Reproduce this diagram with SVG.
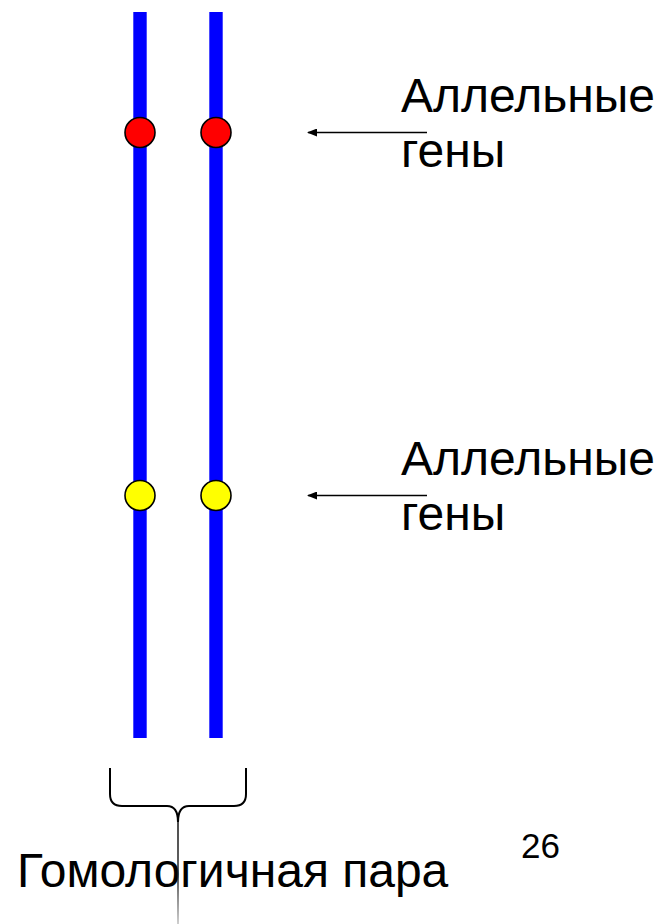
<svg xmlns="http://www.w3.org/2000/svg" width="660" height="924" viewBox="0 0 660 924">
  <defs>
    <style>
      .chrom { fill: #0000ff; }
      .red { fill: #ff0000; stroke: #000; stroke-width: 1.6; }
      .yel { fill: #ffff00; stroke: #000; stroke-width: 1.6; }
      .txt { font-family: "Liberation Sans", Arial, sans-serif; fill: #000; }
      .arrow { stroke: #000; stroke-width: 1.5; fill: none; marker-end: url(#ah); }
    </style>
    <marker id="ah" viewBox="0 0 10 8" refX="9" refY="4" markerWidth="10" markerHeight="8" markerUnits="userSpaceOnUse" orient="auto">
      <path d="M0,0 L10,4 L0,8 Z" fill="#000"/>
    </marker>
    <linearGradient id="stem" gradientUnits="userSpaceOnUse" x1="0" y1="815" x2="0" y2="924">
      <stop offset="0" stop-color="#000"/>
      <stop offset="0.6" stop-color="#222"/>
      <stop offset="1" stop-color="#bbb"/>
    </linearGradient>
  </defs>
  <rect width="660" height="924" fill="#fff"/>

  <g id="chromosome1">
    <rect class="chrom" x="133.3" y="12" width="13.4" height="726"/>
  </g>
  <g id="chromosome2">
    <rect class="chrom" x="209.3" y="12" width="13.4" height="726"/>
  </g>

  <g id="gene-red-1"><circle class="red" cx="140" cy="132.5" r="15"/></g>
  <g id="gene-red-2"><circle class="red" cx="216" cy="132.5" r="15"/></g>
  <g id="gene-yellow-1"><circle class="yel" cx="140" cy="495.5" r="15"/></g>
  <g id="gene-yellow-2"><circle class="yel" cx="216" cy="495.5" r="15"/></g>

  <g id="label-allelic-1">
    <text class="txt" x="401" y="112" font-size="48">Аллельные</text>
    <text class="txt" x="401" y="167" font-size="48">гены</text>
  </g>
  <g id="label-allelic-2">
    <text class="txt" x="401" y="475" font-size="48">Аллельные</text>
    <text class="txt" x="401" y="530" font-size="48">гены</text>
  </g>

  <g id="brace">
    <path d="M110,768 L110,794 Q110,806 122,806 L167,806 Q178,806 178,822 Q178,806 189,806 L234,806 Q246,806 246,794 L246,768" fill="none" stroke="#000" stroke-width="2"/>
  </g>

  <g id="label-homologous">
    <text class="txt" x="17" y="887" font-size="48">Гомологичная пара</text>
  </g>
  <g id="page-number">
    <text class="txt" x="521" y="858" font-size="35">26</text>
  </g>

  <g id="connectors">
    <line class="arrow" x1="427" y1="132.5" x2="308" y2="132.5"/>
    <line class="arrow" x1="427" y1="495.5" x2="308" y2="495.5"/>
    <line x1="178" y1="815" x2="178" y2="924" stroke="url(#stem)" stroke-width="1.4"/>
  </g>
</svg>
